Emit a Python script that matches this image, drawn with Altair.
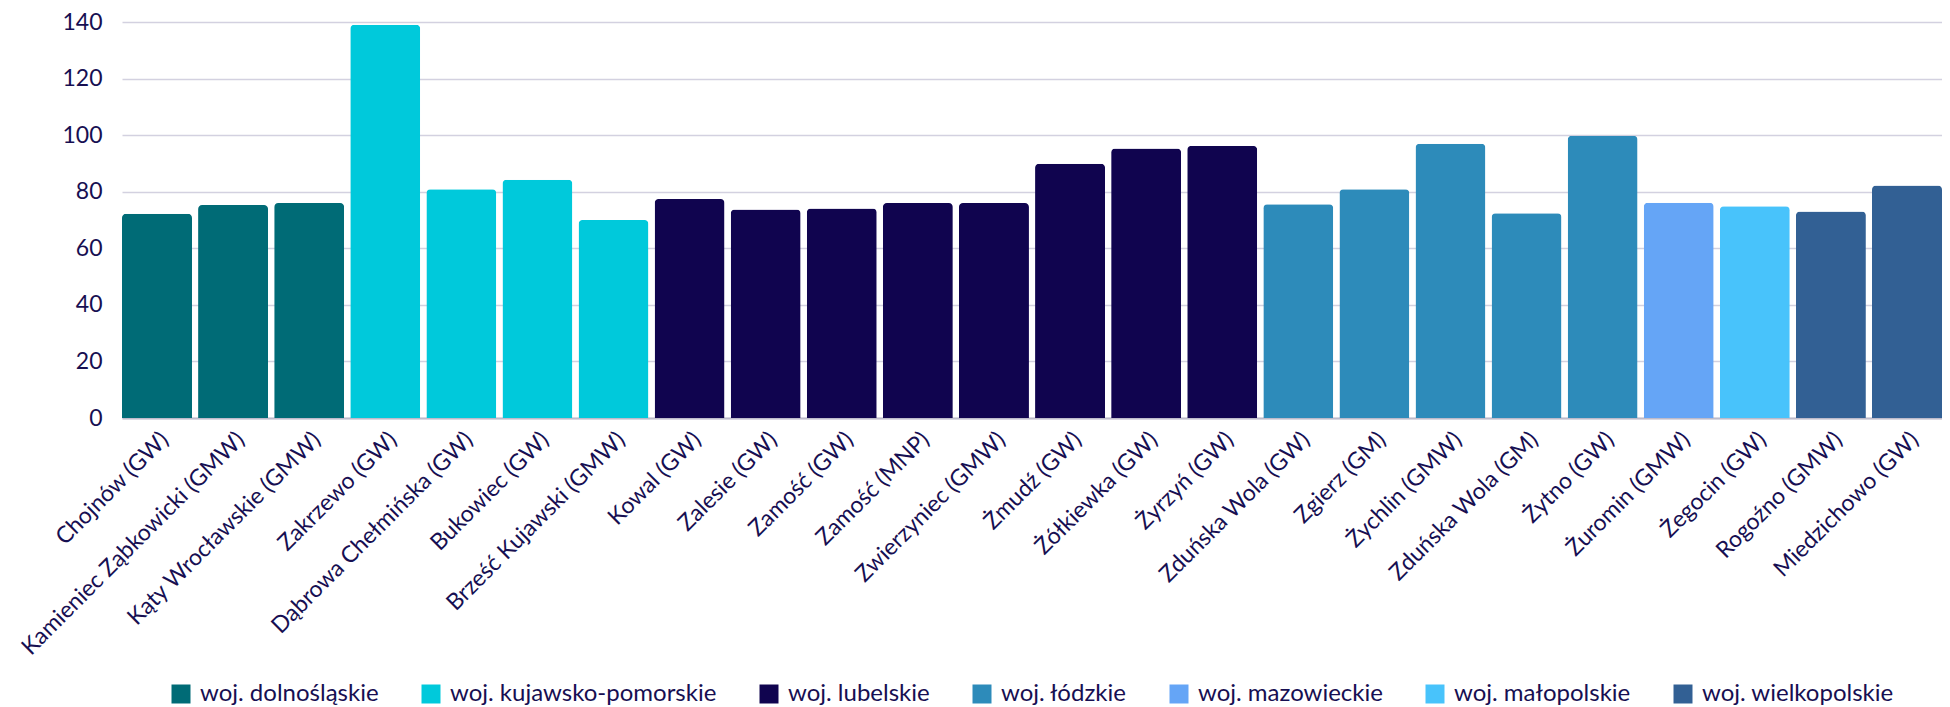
import altair as alt
import pandas as pd

categories = [
    "Chojnów (GW)", "Kamieniec Ząbkowicki (GMW)", "Kąty Wrocławskie (GMW)",
    "Zakrzewo (GW)", "Dąbrowa Chełmińska (GW)", "Bukowiec (GW)", "Brześć Kujawski (GMW)",
    "Kowal (GW)", "Zalesie (GW)", "Zamość (GW)", "Zamość (MNP)", "Zwierzyniec (GMW)",
    "Żmudź (GW)", "Żółkiewka (GW)", "Żyrzyń (GW)",
    "Zduńska Wola (GW)", "Zgierz (GM)", "Żychlin (GMW)", "Zduńska Wola (GM)", "Żytno (GW)",
    "Żuromin (GMW)", "Żegocin (GW)", "Rogoźno (GMW)", "Miedzichowo (GW)",
]
values = [
    72.2, 75.3, 76.0,
    139.0, 80.9, 84.2, 70.0,
    77.4, 73.7, 74.1, 76.0, 76.0,
    89.9, 95.3, 96.2,
    75.6, 80.9, 97.0, 72.4, 99.8,
    76.1, 74.9, 73.0, 82.2,
]
regions = (
    ["woj. dolnośląskie"] * 3
    + ["woj. kujawsko-pomorskie"] * 4
    + ["woj. lubelskie"] * 8
    + ["woj. łódzkie"] * 5
    + ["woj. mazowieckie"]
    + ["woj. małopolskie"]
    + ["woj. wielkopolskie"] * 2
)
region_order = [
    "woj. dolnośląskie", "woj. kujawsko-pomorskie", "woj. lubelskie", "woj. łódzkie",
    "woj. mazowieckie", "woj. małopolskie", "woj. wielkopolskie",
]
region_colors = ["#006B76", "#00C9DB", "#10044F", "#2D8BBA", "#65A5F6", "#48C3FB", "#326094"]
y_ticks = [0, 20, 40, 60, 80, 100, 120, 140]

TEXT = "#170F52"
FONT = "Lato"

df = pd.DataFrame({"gmina": categories, "wartosc": values, "woj": regions})

chart = (
    alt.Chart(df)
    .mark_bar(cornerRadiusTopLeft=4, cornerRadiusTopRight=4)
    .encode(
        x=alt.X(
            "gmina:N",
            sort=categories,
            title=None,
            scale=alt.Scale(paddingInner=0.08, paddingOuter=0, round=False),
            axis=alt.Axis(
                labelAngle=-45,
                labelFontSize=23,
                labelFont=FONT,
                labelColor=TEXT,
                ticks=False,
                domainColor="#BDBBCB",
                domainWidth=2,
                labelPadding=10,
                labelLimit=0,
                labelOverlap=False,
                grid=False,
            ),
        ),
        y=alt.Y(
            "wartosc:Q",
            title=None,
            scale=alt.Scale(domain=[0, 140], nice=False),
            axis=alt.Axis(
                values=y_ticks,
                labelFontSize=23,
                labelFont=FONT,
                labelColor=TEXT,
                ticks=False,
                domain=False,
                labelPadding=20,
                gridColor="#D3D1E0",
                gridWidth=1.5,
            ),
        ),
        color=alt.Color(
            "woj:N",
            scale=alt.Scale(domain=region_order, range=region_colors),
            legend=alt.Legend(
                title=None,
                orient="none",
                legendX=47,
                legendY=660,
                direction="horizontal",
                columns=7,
                symbolType="square",
                symbolSize=361,
                symbolStrokeWidth=0,
                symbolOpacity=1,
                labelFontSize=24,
                labelFont=FONT,
                labelColor=TEXT,
                labelOffset=7,
                columnPadding=40,
                labelLimit=0,
            ),
        ),
    )
    .properties(
        width=1820,
        height=396,
        autosize=alt.AutoSizeParams(type="none"),
        padding={"left": 114, "top": 14, "right": 0, "bottom": 290},
    )
    .configure_view(stroke=None)
)

chart.save("out.html", embed_options={"renderer": "svg", "actions": False})
